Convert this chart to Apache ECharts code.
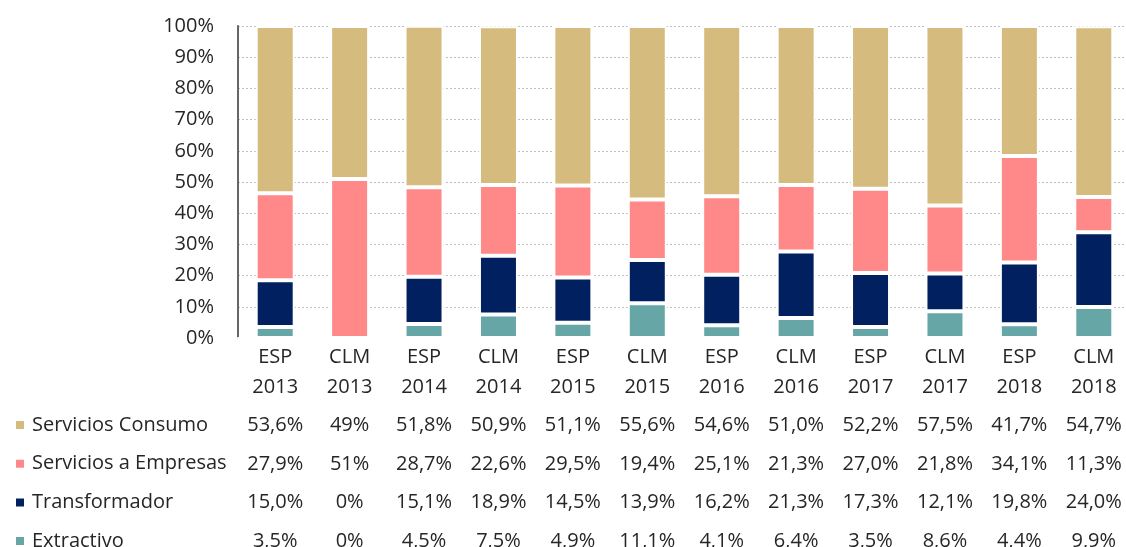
<!DOCTYPE html>
<html>
<head>
<meta charset="utf-8">
<script src="https://cdn.jsdelivr.net/npm/echarts@6/dist/echarts.min.js"></script>
<style>
  html, body { margin: 0; padding: 0; background: #fff; }
  #chart { width: 1126px; height: 547px; }
</style>
</head>
<body>
<div id="chart"></div>
<script>
const categories = ['ESP\n2013', 'CLM\n2013', 'ESP\n2014', 'CLM\n2014', 'ESP\n2015', 'CLM\n2015',
  'ESP\n2016', 'CLM\n2016', 'ESP\n2017', 'CLM\n2017', 'ESP\n2018', 'CLM\n2018']

// table rows as shown under the chart
const consumoLabels = ['53,6%', '49%', '51,8%', '50,9%', '51,1%', '55,6%', '54,6%', '51,0%', '52,2%', '57,5%', '41,7%', '54,7%']
const empresasLabels = ['27,9%', '51%', '28,7%', '22,6%', '29,5%', '19,4%', '25,1%', '21,3%', '27,0%', '21,8%', '34,1%', '11,3%']
const transformadorLabels = ['15,0%', '0%', '15,1%', '18,9%', '14,5%', '13,9%', '16,2%', '21,3%', '17,3%', '12,1%', '19,8%', '24,0%']
const extractivoLabels = ['3,5%', '0%', '4,5%', '7,5%', '4,9%', '11,1%', '4,1%', '6,4%', '3,5%', '8,6%', '4,4%', '9,9%']

const yTicks = [0, 10, 20, 30, 40, 50, 60, 70, 80, 90, 100]

const toNum = arr => arr.map(s => parseFloat(s.replace('%', '').replace(',', '.')))
const consumo = toNum(consumoLabels)
const empresas = toNum(empresasLabels)
const transformador = toNum(transformadorLabels)
const extractivo = toNum(extractivoLabels)

const FONT = 'Open Sans'
const TEXT = '#262626'
const SIZE = 20

const chart = echarts.init(document.getElementById('chart'))

const tableAxis = (data, offset) => ({
  type: 'category',
  data,
  position: 'bottom',
  offset,
  axisLine: { show: false },
  axisTick: { show: false },
  axisLabel: { interval: 0, margin: 0, color: TEXT, fontFamily: FONT, fontSize: SIZE, lineHeight: 20 },
})

const barSeries = (name, data, color) => ({
  name,
  type: 'bar',
  stack: 'total',
  data,
  barWidth: 39,
  itemStyle: { color, borderColor: '#fff', borderWidth: 2 },
})

chart.setOption({
  animation: false,
  grid: { left: 238, top: 26, bottom: 209, width: 893, outerBoundsMode: 'none' },
  legend: {
    orient: 'vertical',
    left: 14,
    top: 415,
    height: 160,
    padding: 0,
    itemWidth: 10,
    itemHeight: 10,
    itemGap: 18.7,
    icon: 'rect',
    textStyle: { color: TEXT, fontFamily: FONT, fontSize: SIZE, lineHeight: 20, padding: [0, 0, 0, 2] },
    data: ['Servicios Consumo', 'Servicios a Empresas', 'Transformador', 'Extractivo'],
  },
  xAxis: [
    {
      type: 'category',
      data: categories,
      axisLine: { show: true, lineStyle: { color: '#fff', width: 2 } },
      axisTick: { show: false },
      axisLabel: { interval: 0, margin: 4, color: TEXT, fontFamily: FONT, fontSize: SIZE, lineHeight: 30 },
    },
    tableAxis(consumoLabels, 77),
    tableAxis(empresasLabels, 116),
    tableAxis(transformadorLabels, 154),
    tableAxis(extractivoLabels, 193),
  ],
  yAxis: {
    type: 'value',
    min: yTicks[0],
    max: yTicks[yTicks.length - 1],
    interval: yTicks[1] - yTicks[0],
    axisLine: { show: true, lineStyle: { color: '#666', width: 2 } },
    axisTick: { show: false },
    axisLabel: { margin: 24, color: TEXT, fontFamily: FONT, fontSize: SIZE, formatter: '{value}%' },
    splitLine: { lineStyle: { color: '#BFBFBF', type: [2, 2], width: 1 } },
  },
  series: [
    barSeries('Extractivo', extractivo, '#66A6A6'),
    barSeries('Transformador', transformador, '#00205F'),
    barSeries('Servicios a Empresas', empresas, '#FF8888'),
    barSeries('Servicios Consumo', consumo, '#D5BB7D'),
  ],
})
</script>
</body>
</html>
